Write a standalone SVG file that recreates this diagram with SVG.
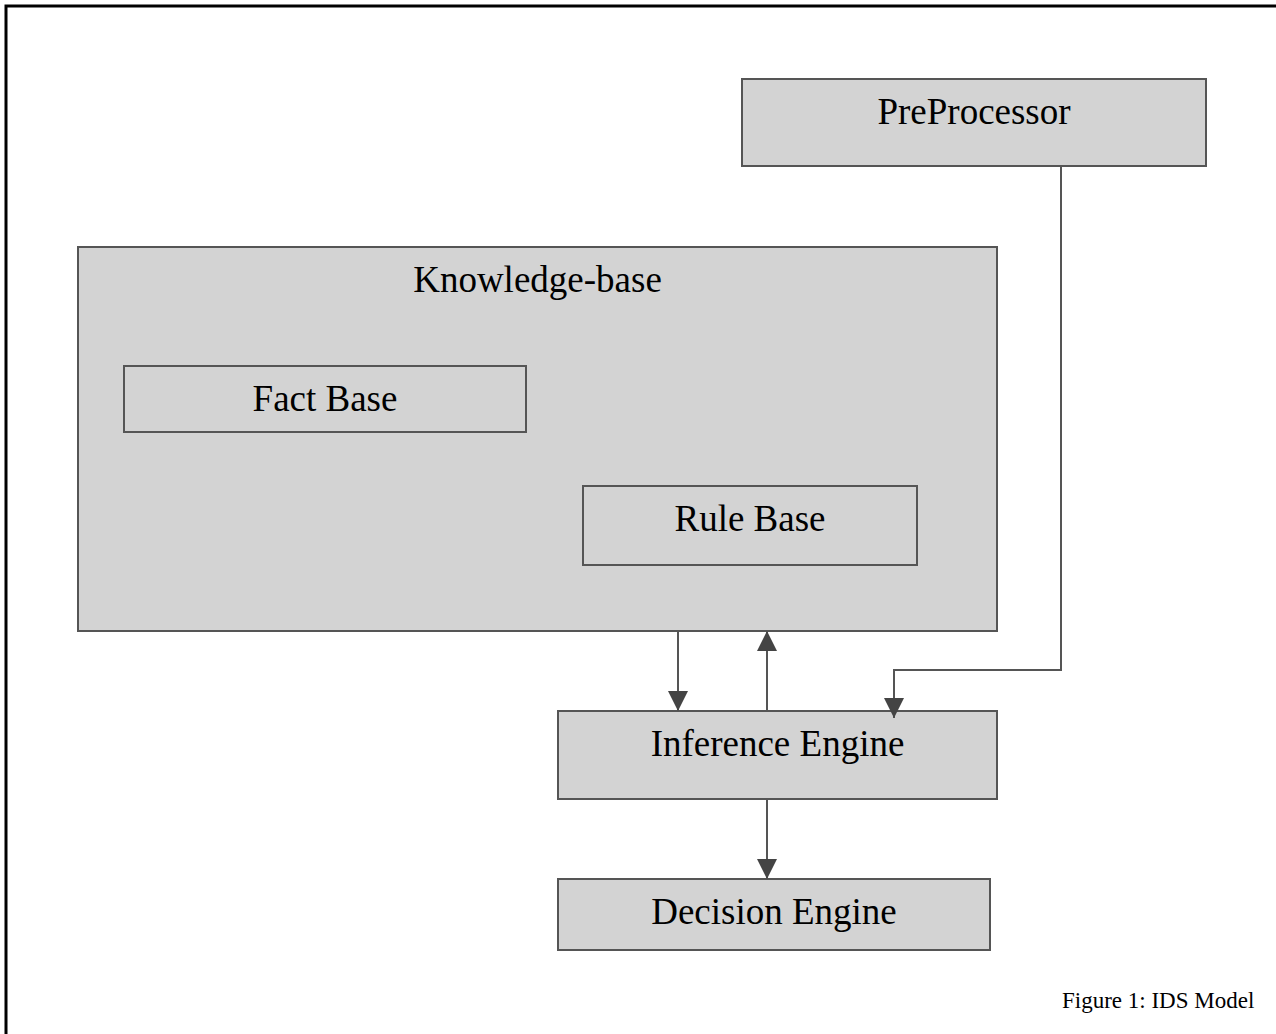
<svg xmlns="http://www.w3.org/2000/svg" width="1276" height="1034" viewBox="0 0 1276 1034">
  <style>
    .box { fill: #d3d3d3; stroke: #555555; stroke-width: 2; }
    .label { font-family: "Liberation Serif", "Times New Roman", serif; font-size: 37px; fill: #000; text-anchor: middle; }
    .wire { fill: none; stroke: #555555; stroke-width: 2; }
    .caption { font-family: "Liberation Serif", "Times New Roman", serif; font-size: 23px; fill: #000; }
  </style>
  <defs>
    <marker id="head" viewBox="0 0 20 20" refX="20" refY="10" markerWidth="20" markerHeight="20" markerUnits="userSpaceOnUse" orient="auto">
      <path d="M0,0 L20,10 L0,20 Z" fill="#444444"/>
    </marker>
  </defs>
  <rect width="1276" height="1034" fill="#ffffff"/>
  <!-- page frame: top and left rules only -->
  <path d="M6,1034 V6 H1276" fill="none" stroke="#000" stroke-width="3"/>

  <g id="preprocessor">
    <rect class="box" x="742" y="79" width="464" height="87"/>
    <text class="label" x="974" y="124">PreProcessor</text>
  </g>
  <g id="knowledge-base">
    <rect class="box" x="78" y="247" width="919" height="384"/>
    <text class="label" x="537.5" y="292">Knowledge-base</text>
  </g>
  <g id="fact-base">
    <rect class="box" x="124" y="366" width="402" height="66"/>
    <text class="label" x="325" y="411">Fact Base</text>
  </g>
  <g id="rule-base">
    <rect class="box" x="583" y="486" width="334" height="79"/>
    <text class="label" x="750" y="531">Rule Base</text>
  </g>
  <g id="inference-engine">
    <rect class="box" x="558" y="711" width="439" height="88"/>
    <text class="label" x="777.5" y="756">Inference Engine</text>
  </g>
  <g id="decision-engine">
    <rect class="box" x="558" y="879" width="432" height="71"/>
    <text class="label" x="774" y="924">Decision Engine</text>
  </g>

  <g id="connectors">
    <line class="wire" x1="678" y1="631" x2="678" y2="711" marker-end="url(#head)"/>
    <line class="wire" x1="767" y1="711" x2="767" y2="631" marker-end="url(#head)"/>
    <polyline class="wire" points="1061,166 1061,670 894,670 894,718" marker-end="url(#head)"/>
    <line class="wire" x1="767" y1="799" x2="767" y2="879" marker-end="url(#head)"/>
  </g>

  <text class="caption" x="1062" y="1008">Figure 1: IDS Model</text>
</svg>
